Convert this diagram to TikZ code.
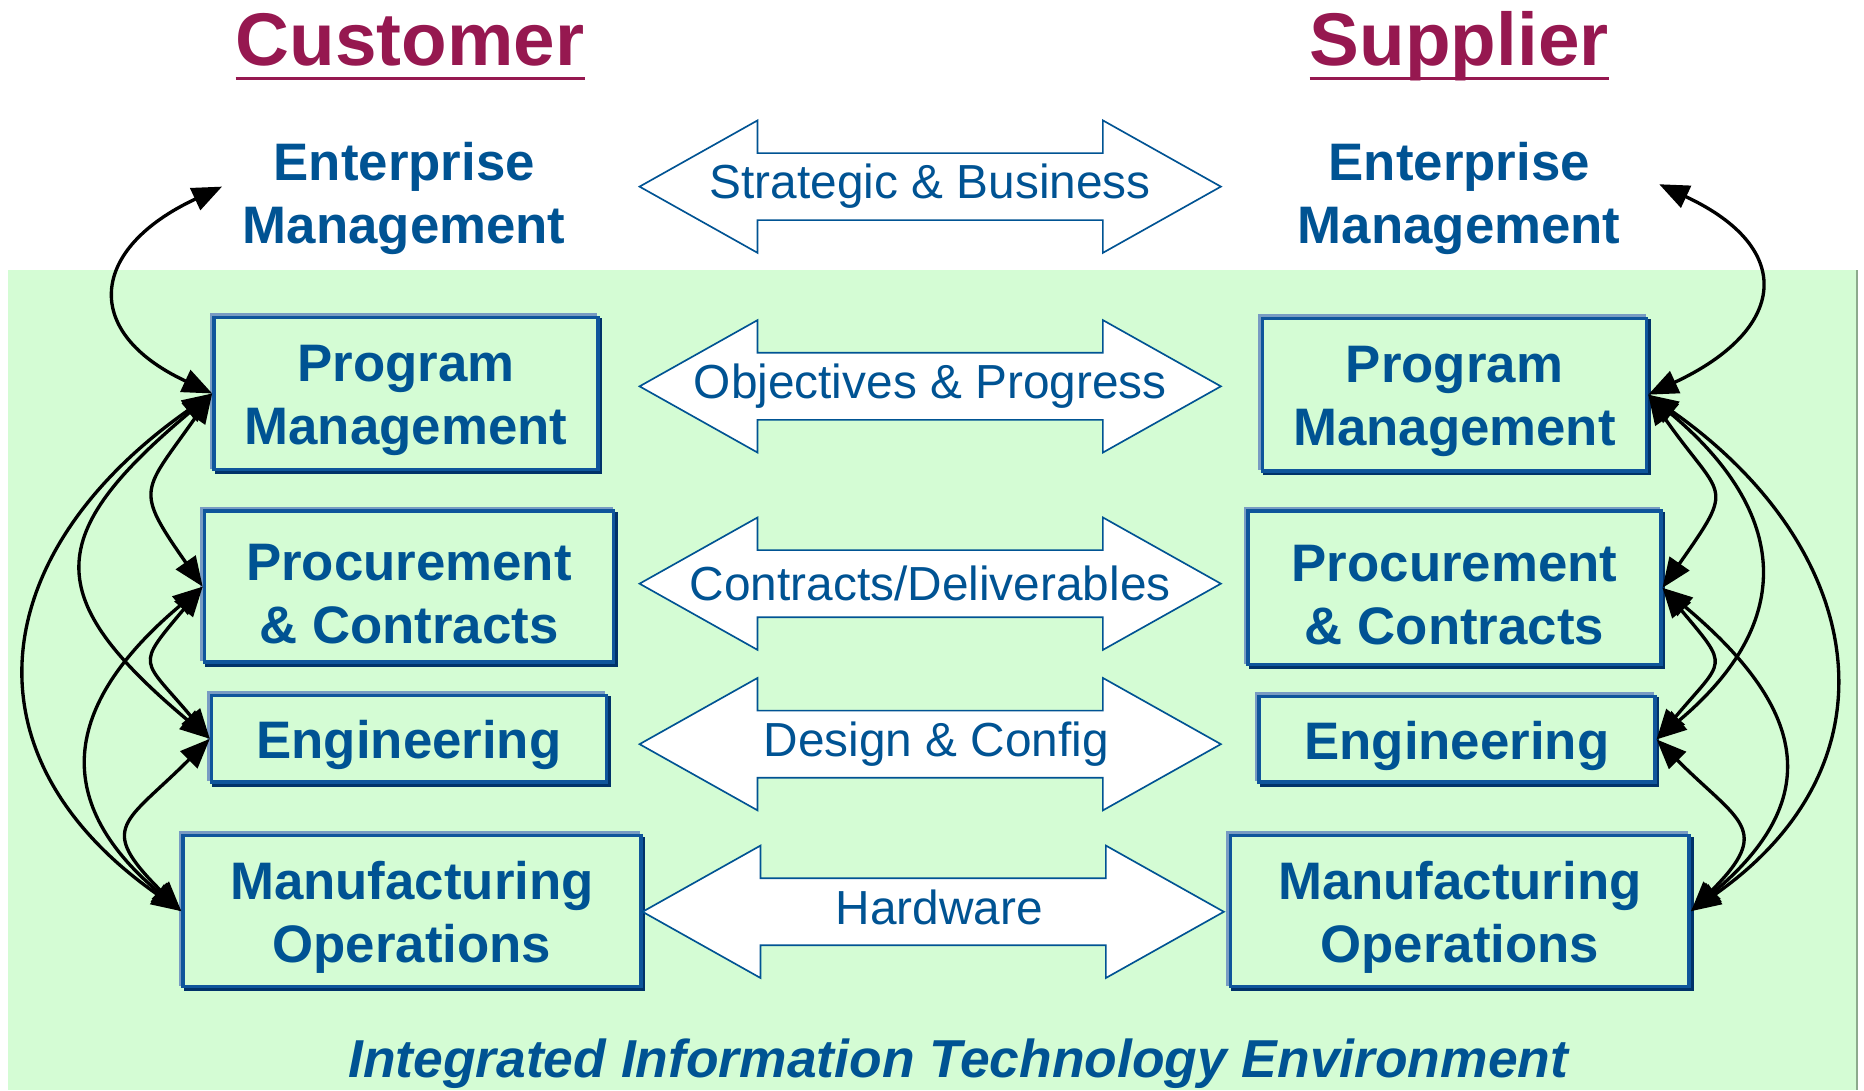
\documentclass[tikz,border=0pt]{standalone}
\usepackage{fontspec}
\setmainfont{Liberation Sans}
\usetikzlibrary{arrows.meta}
\usetikzlibrary{shapes.arrows}

\definecolor{textblue}{RGB}{0,83,147}
\definecolor{boxblue}{RGB}{15,85,155}
\definecolor{boxlight}{RGB}{120,155,195}
\definecolor{boxdark}{RGB}{0,50,105}
\definecolor{envgreen}{RGB}{212,252,212}
\definecolor{edgegray}{RGB}{140,170,140}
\definecolor{titlered}{RGB}{150,24,80}

\tikzset{
  roletitle/.style={text=titlered, font=\fontsize{62.8}{70}\selectfont\bfseries, inner sep=0pt},
  level/.style={text=textblue, font=\fontsize{44.4}{53}\selectfont\bfseries, align=center},
  levelbox/.style={level, draw=boxblue, line width=3pt, fill=envgreen, inner sep=0pt,
    text height=95.4pt,
    preaction={draw=boxlight, line width=3pt, transform canvas={shift={(-2.2pt,2.2pt)}}},
    preaction={draw=boxdark, line width=3pt, transform canvas={shift={(2.2pt,-2.2pt)}}}},
  flow/.style={double arrow, draw=textblue, line width=1.4pt, fill=white,
    minimum height=489pt, minimum width=110pt, inner xsep=0pt, inner ysep=27.5pt,
    double arrow head extend=27.5pt, double arrow tip angle=58.6},
  flowtext/.style={text=textblue, font=\fontsize{40.2}{48}\selectfont, inner sep=0pt},
  link/.style={{Triangle[length=25pt,width=20pt]}-{Triangle[length=25pt,width=20pt]},
    line width=2.8pt, black}
}

\begin{document}
\begin{tikzpicture}[x=1pt,y=1pt]
  \useasboundingbox (0,0) rectangle (1568,917);
  \fill[white] (0,0) rectangle (1568,917);
  % environment
  \fill[envgreen] (7,0) rectangle (1561,690);
  \draw[edgegray, line width=2pt] (1562,0) -- (1562,690);
  \node[text=textblue, font=\fontsize{44.9}{50}\selectfont\bfseries\itshape, inner sep=0pt, anchor=base]
    (env) at (806,11) {Integrated Information Technology Environment};

  % titles
  \node[roletitle, anchor=base] (cust) at (345,862) {Customer};
  \node[roletitle, anchor=base] (supp) at (1227.5,862) {Supplier};
  \draw[titlered, line width=3pt] ([yshift=-11pt]cust.base west) -- ([yshift=-11pt]cust.base east);
  \draw[titlered, line width=3pt] ([yshift=-11pt]supp.base west) -- ([yshift=-11pt]supp.base east);

  % customer side
  \node[level] (cem) at (340,750) {Enterprise\\Management};
  \node[levelbox, minimum width=323pt, minimum height=128pt] (cpm) at (341.5,586) {Program\\Management};
  \node[levelbox, minimum width=344pt, minimum height=127pt] (cpc) at (344,423.5) {Procurement\\\& Contracts};
  \node[levelbox, minimum width=332pt, minimum height=73pt, text height=42.5pt] (ceng) at (344,295.5) {Engineering};
  \node[levelbox, minimum width=385pt, minimum height=127pt] (cmfg) at (346.5,150.5) {Manufacturing\\Operations};

  % supplier side
  \node[level] (sem) at (1227.5,750) {Enterprise\\Management};
  \node[levelbox, minimum width=323pt, minimum height=128pt] (spm) at (1223.5,585) {Program\\Management};
  \node[levelbox, minimum width=347pt, minimum height=129pt] (spc) at (1223.5,422.5) {Procurement\\\& Contracts};
  \node[levelbox, minimum width=333pt, minimum height=72pt, text height=42.5pt] (seng) at (1225.5,295) {Engineering};
  \node[levelbox, minimum width=386pt, minimum height=127pt] (smfg) at (1228,150.5) {Manufacturing\\Operations};

  % exchanges
  \node[flow] (strat) at (782.5,760) {};
  \node[flowtext] at (strat) {Strategic \& Business};
  \node[flow] (objc) at (782.5,592) {};
  \node[flowtext] at (objc) {Objectives \& Progress};
  \node[flow] (ctrc) at (782.5,426) {};
  \node[flowtext] at (ctrc) {Contracts/Deliverables};
  \node[flow] (dsgn) at (782.5,291) {};
  \node[flowtext] at ([xshift=5pt]dsgn) {Design \& Config};
  \node[flow] (hdwr) at (785,150) {};
  \node[flowtext] at ([xshift=5pt,yshift=4pt]hdwr) {Hardware};

  % internal links, customer
  \draw[link] ([xshift=-14pt,yshift=10pt]cem.west) to[out=205,in=155,looseness=1.8] (cpm.west);
  \draw[link] (cpm.west) to[out=235,in=125,looseness=1.6] (cpc.west);
  \draw[link] (cpm.west) to[out=220,in=140,looseness=1.63] (ceng.west);
  \draw[link] (cpm.west) to[out=215,in=145,looseness=1.35] (cmfg.west);
  \draw[link] (cpc.west) to[out=230,in=130,looseness=1.78] (ceng.west);
  \draw[link] (cpc.west) to[out=220,in=140,looseness=1.39] (cmfg.west);
  \draw[link] (ceng.west) to[out=225,in=135,looseness=1.76] (cmfg.west);

  % internal links, supplier
  \draw[link] ([xshift=29pt,yshift=12pt]sem.east) to[out=-25,in=25,looseness=1.85] (spm.east);
  \draw[link] (spm.east) to[out=305,in=55,looseness=1.71] (spc.east);
  \draw[link] (spm.east) to[out=320,in=40,looseness=1.36] (seng.east);
  \draw[link] (spm.east) to[out=325,in=35,looseness=1.3] (smfg.east);
  \draw[link] (spc.east) to[out=310,in=50,looseness=1.78] (seng.east);
  \draw[link] (spc.east) to[out=320,in=40,looseness=1.43] (smfg.east);
  \draw[link] (seng.east) to[out=315,in=45,looseness=1.7] (smfg.east);
\end{tikzpicture}
\end{document}
